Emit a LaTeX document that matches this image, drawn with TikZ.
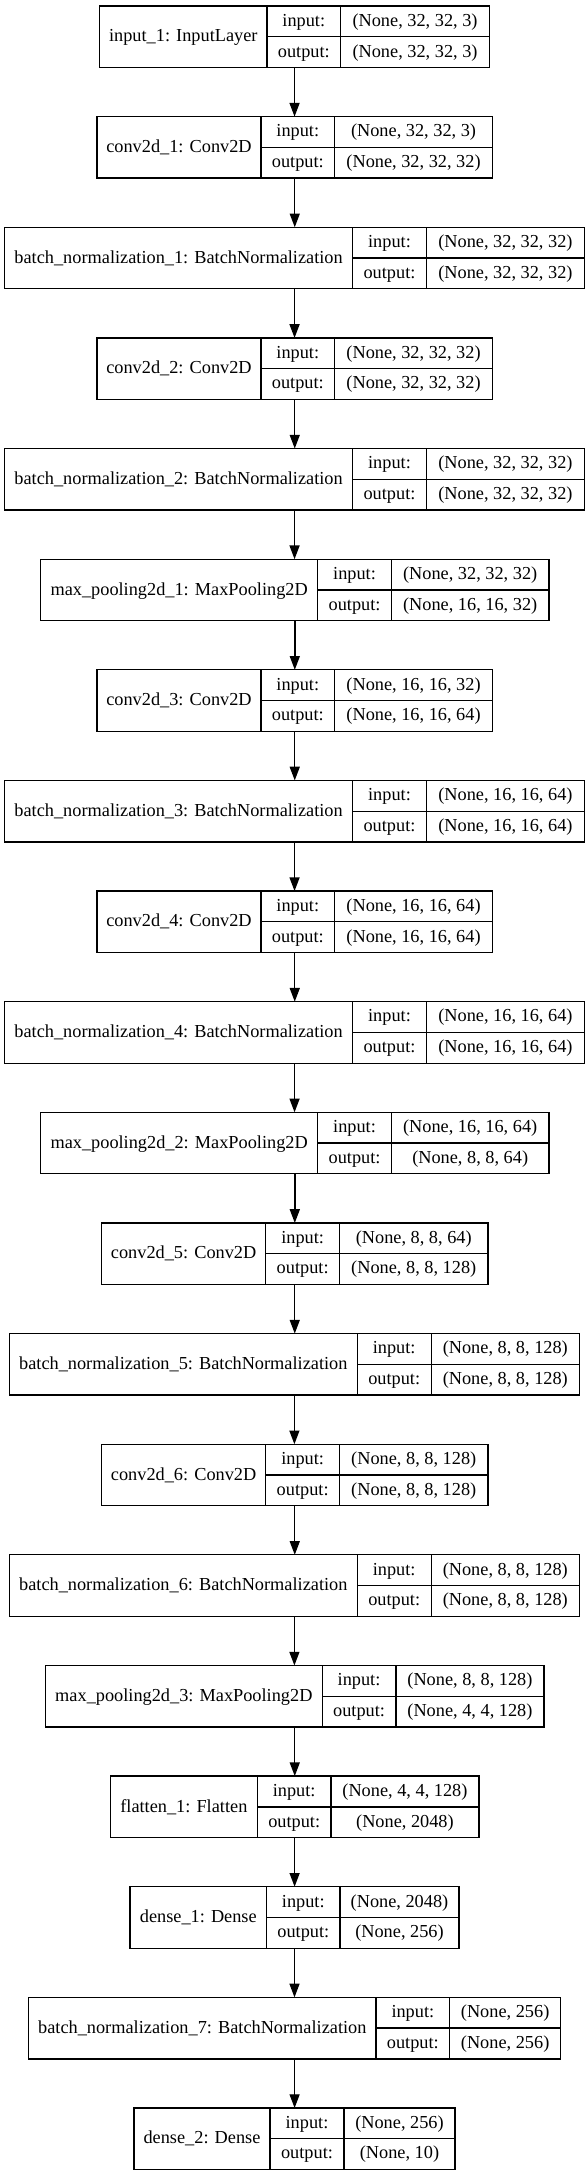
\documentclass[tikz,border=0pt]{standalone}
\usepackage{fontspec}
\setmainfont{Liberation Serif}
\usetikzlibrary{arrows.meta}
\newcommand\kerasLayer[9]{% #1 name, #2 index, #3-#6 cell borders, #7 label, #8 input, #9 output
  \pgfmathsetmacro\kerasTop{6+#2*110.63}%
  \pgfmathsetmacro\kerasWid{#6-#3}%
  \node[layer, minimum width=\kerasWid pt] (#1) at (#3,\kerasTop) {};
  \draw[cell] (#4,\kerasTop) -- ++(0,61.5) (#5,\kerasTop) -- ++(0,61.5)
              (#4,\kerasTop+30.75) -- (#6,\kerasTop+30.75);
  \node[txt] (#1-lab) at ({(#3+#4)/2},\kerasTop+35.9) {#7};
  \node[txt] (#1-ik)  at ({(#4+#5)/2},\kerasTop+20.3) {input:};
  \node[txt] (#1-ok)  at ({(#4+#5)/2},\kerasTop+51) {output:};
  \node[txt] (#1-iv)  at ({(#5+#6)/2},\kerasTop+20.3) {#8};
  \node[txt] (#1-ov)  at ({(#5+#6)/2},\kerasTop+51) {#9};
}
\begin{document}
\begin{tikzpicture}[x=1pt,y=-1pt,
  layer/.style={draw=black, line width=1.3pt, inner sep=0pt, outer sep=0pt,
                anchor=north west, minimum height=61.5pt},
  cell/.style={draw=black, line width=1.3pt},
  txt/.style={inner sep=0pt, anchor=base, font=\fontsize{18.3}{20}\selectfont},
  flow/.style={draw=black, line width=1.4pt, -{Triangle[length=13.7pt,width=10pt]}}]
\useasboundingbox (0,0) rectangle (588,2176);
\fill[white] (0,0) rectangle (588,2176);

\kerasLayer{L0}{0}{99.6}{267}{340.6}{489.5}{input\_1: InputLayer}{(None, 32, 32, 3)}{(None, 32, 32, 3)}
\kerasLayer{L1}{1}{97}{261}{334.6}{492.5}{conv2d\_1: Conv2D}{(None, 32, 32, 3)}{(None, 32, 32, 32)}
\kerasLayer{L2}{2}{4.5}{352.7}{426.3}{584.6}{batch\_normalization\_1: BatchNormalization}{(None, 32, 32, 32)}{(None, 32, 32, 32)}
\kerasLayer{L3}{3}{97}{261}{334.6}{492.5}{conv2d\_2: Conv2D}{(None, 32, 32, 32)}{(None, 32, 32, 32)}
\kerasLayer{L4}{4}{4.5}{352.7}{426.3}{584.6}{batch\_normalization\_2: BatchNormalization}{(None, 32, 32, 32)}{(None, 32, 32, 32)}
\kerasLayer{L5}{5}{40.6}{317.7}{391.4}{549}{max\_pooling2d\_1: MaxPooling2D}{(None, 32, 32, 32)}{(None, 16, 16, 32)}
\kerasLayer{L6}{6}{97}{261}{334.6}{492.5}{conv2d\_3: Conv2D}{(None, 16, 16, 32)}{(None, 16, 16, 64)}
\kerasLayer{L7}{7}{4.5}{352.7}{426.3}{584.6}{batch\_normalization\_3: BatchNormalization}{(None, 16, 16, 64)}{(None, 16, 16, 64)}
\kerasLayer{L8}{8}{97}{261}{334.6}{492.5}{conv2d\_4: Conv2D}{(None, 16, 16, 64)}{(None, 16, 16, 64)}
\kerasLayer{L9}{9}{4.5}{352.7}{426.3}{584.6}{batch\_normalization\_4: BatchNormalization}{(None, 16, 16, 64)}{(None, 16, 16, 64)}
\kerasLayer{L10}{10}{40.6}{317.7}{391.4}{549}{max\_pooling2d\_2: MaxPooling2D}{(None, 16, 16, 64)}{(None, 8, 8, 64)}
\kerasLayer{L11}{11}{101.5}{265.8}{339.5}{488}{conv2d\_5: Conv2D}{(None, 8, 8, 64)}{(None, 8, 8, 128)}
\kerasLayer{L12}{12}{9.4}{357.2}{431.2}{579.4}{batch\_normalization\_5: BatchNormalization}{(None, 8, 8, 128)}{(None, 8, 8, 128)}
\kerasLayer{L13}{13}{101.5}{265.8}{339.5}{488}{conv2d\_6: Conv2D}{(None, 8, 8, 128)}{(None, 8, 8, 128)}
\kerasLayer{L14}{14}{9.4}{357.2}{431.2}{579.4}{batch\_normalization\_6: BatchNormalization}{(None, 8, 8, 128)}{(None, 8, 8, 128)}
\kerasLayer{L15}{15}{45.5}{322.2}{395.9}{544}{max\_pooling2d\_3: MaxPooling2D}{(None, 8, 8, 128)}{(None, 4, 4, 128)}
\kerasLayer{L16}{16}{110.2}{257.5}{330.9}{479}{flatten\_1: Flatten}{(None, 4, 4, 128)}{(None, 2048)}
\kerasLayer{L17}{17}{130}{266.6}{340}{459}{dense\_1: Dense}{(None, 2048)}{(None, 256)}
\kerasLayer{L18}{18}{28.6}{376}{449.7}{560.6}{batch\_normalization\_7: BatchNormalization}{(None, 256)}{(None, 256)}
\kerasLayer{L19}{19}{134}{270}{344}{455}{dense\_2: Dense}{(None, 256)}{(None, 10)}

\foreach \a/\b in {L0/L1,L1/L2,L2/L3,L3/L4,L4/L5,L5/L6,L6/L7,L7/L8,L8/L9,L9/L10,
                   L10/L11,L11/L12,L12/L13,L13/L14,L14/L15,L15/L16,L16/L17,L17/L18,L18/L19}
  \draw[flow] (\a.south) -- (\a.south |- \b.north);
\end{tikzpicture}
\end{document}
